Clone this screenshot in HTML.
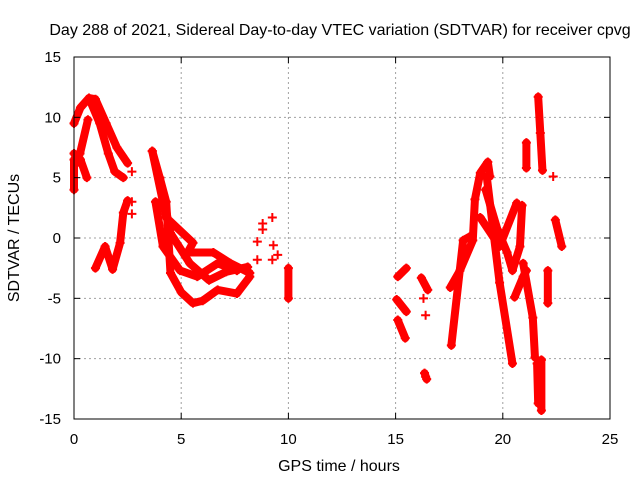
<!DOCTYPE html>
<html><head><meta charset="utf-8"><style>
body{margin:0;background:#fff;}
svg{display:block;font-family:"Liberation Sans",sans-serif;}
</style></head><body>
<svg id="chart" width="640" height="480">
<rect width="640" height="480" fill="#fff"/>
<text x="340" y="35" font-size="16" text-anchor="middle">Day 288 of 2021, Sidereal Day-to-day VTEC variation (SDTVAR) for receiver cpvg</text>
<g id="grid"></g><g id="marks"></g><g id="axes"></g>
<text x="339" y="471" font-size="16" text-anchor="middle">GPS time / hours</text>
<text x="19" y="238" font-size="16" text-anchor="middle" transform="rotate(-90 19 238)">SDTVAR / TECUs</text>
</svg>
<script>
const xTicks=[0,5,10,15,20,25];
const yTicks=[-15,-10,-5,0,5,10,15];
const trackA1=[[0,9.5],[0.3,10.8],[0.7,11.6],[1.0,11.5],[1.5,9.5],[2.0,7.5],[2.5,6.2]];
const trackA2=[[0.7,11.6],[1.2,9.5],[1.6,7.0],[1.9,5.5],[2.3,5.0]];
const trackA3=[[0,7],[0.3,6.5],[0.6,5]];
const trackA4=[[0.28,7],[0.65,9.8]];
const trackA5=[[0,4],[0,6.5]];
const trackB=[[1.0,-2.5],[1.45,-0.7],[1.8,-2.6],[2.15,-0.4],[2.3,2.1],[2.5,3.1]];
const trackC1=[[3.65,7.2],[4.0,5],[4.3,3],[4.5,-2.9],[5.0,-4.5],[5.55,-5.4],[6.0,-5.2],[6.7,-4.3],[7.6,-4.6],[8.2,-3.2]];
const trackC2=[[3.65,7.2],[4.3,1.7],[5.55,-0.4],[5.3,-1.2],[6.5,-1.2],[7.3,-2.1],[8.2,-2.9]];
const trackC3=[[4.0,5],[4.5,0.4],[5.4,-2.1],[6.3,-3.5],[7.1,-2.8],[8.1,-2.4]];
const trackC4=[[3.8,3],[4.15,-0.7],[4.95,-2.7],[5.75,-3.2],[6.7,-2.1],[7.6,-2.7]];
const trackR1=[[15.1,-3.2],[15.5,-2.5]];
const trackR2=[[15.05,-5.1],[15.5,-6.1]];
const trackR3=[[15.1,-6.8],[15.45,-8.3]];
const trackR4=[[16.2,-3.3],[16.5,-4.3]];
const trackR5=[[17.6,-8.9],[18.15,-0.2],[18.45,0.1]];
const trackR6=[[17.55,-4.1],[18.0,-2.7],[18.6,-0.2],[18.7,3.2],[18.95,5.4],[19.3,6.3],[19.4,5.1]];
const trackR7=[[19.25,5.1],[19.85,-3.7],[20.45,-10.4]];
const trackR8=[[19.2,4],[19.75,0.7],[20.2,-1.2],[20.45,-2.7],[20.8,-0.7],[20.9,2.7]];
const trackR9=[[18.95,1.7],[19.85,-0.7],[20.65,2.9]];
const trackR10=[[20.55,-4.9],[20.95,-3.2],[21.1,-2.7]];
const trackR11=[[20.95,-2.1],[21.4,-6.6],[21.5,-9.9]];
const trackR12=[[21.65,11.7],[21.75,8.7],[21.85,5.6]];
const trackR13=[[21.6,-10.4],[21.65,-13.7]];
const trackR14=[[21.8,-10.1],[21.8,-14.3]];
const trackR15=[[21.1,7.9],[21.1,5.8]];
const trackR16=[[22.45,1.5],[22.75,-0.7]];
const trackR17=[[22.1,-2.7],[22.1,-5.4]];
const trackR18=[[10,-2.5],[10,-5]];
const trackR19=[[16.35,-11.2],[16.45,-11.7]];
const scatterPts=[[2.7,3],[2.7,5.5],[2.7,2],[8.55,-0.3],[8.8,0.7],[8.8,1.2],[9.25,1.7],[9.3,-0.6],[8.55,-1.8],[9.25,-1.8],[9.5,-1.4],[16.3,-5],[16.4,-6.4],[16.4,-11.5],[22.35,5.1],[0.1,6]];
const tracks=[trackA1,trackA2,trackA3,trackA4,trackA5,trackB,trackC1,trackC2,trackC3,trackC4,trackR1,trackR2,trackR3,trackR4,trackR5,trackR6,trackR7,trackR8,trackR9,trackR10,trackR11,trackR12,trackR13,trackR14,trackR15,trackR16,trackR17,trackR18,trackR19];
const X0=74,X1=610,Y0=419,Y1=57;
const sx=t=>X0+(t-0)/(25-0)*(X1-X0);
const sy=v=>Y0-(v+15)/30*(Y0-Y1);
const NS="http://www.w3.org/2000/svg";
function mk(tag,attrs,parent){const e=document.createElementNS(NS,tag);for(const k in attrs)e.setAttribute(k,attrs[k]);parent.appendChild(e);return e;}
const grid=document.getElementById('grid'),axes=document.getElementById('axes'),marks=document.getElementById('marks');
xTicks.forEach(t=>{
  if(t>0&&t<25){const g=mk('line',{x1:sx(t),x2:sx(t),y1:Y1,y2:Y0,stroke:'#a0a0a0','stroke-dasharray':'2,3'},grid);
  
  }
  mk('line',{x1:sx(t),x2:sx(t),y1:Y0,y2:Y0-6,stroke:'#000'},axes);
  mk('line',{x1:sx(t),x2:sx(t),y1:Y1,y2:Y1+6,stroke:'#000'},axes);
  const l=mk('text',{x:sx(t),y:444,'font-size':15,'text-anchor':'middle'},axes);l.textContent=t;
  
  
});
yTicks.forEach(v=>{
  if(v>-15&&v<15){const g=mk('line',{x1:X0,x2:X1,y1:sy(v),y2:sy(v),stroke:'#a0a0a0','stroke-dasharray':'2,3'},grid);
  
  }
  mk('line',{x1:X0,x2:X0+6,y1:sy(v),y2:sy(v),stroke:'#000'},axes);
  mk('line',{x1:X1,x2:X1-6,y1:sy(v),y2:sy(v),stroke:'#000'},axes);
  const l=mk('text',{x:61,y:sy(v)+5,'font-size':15,'text-anchor':'end'},axes);l.textContent=v;
  
  
});
const fr=mk('rect',{x:X0,y:Y1,width:X1-X0,height:Y0-Y1,fill:'none',stroke:'#000'},axes);


function plus(t,v){const x=sx(t),y=sy(v);
  const p=mk('path',{d:`M${x-4.5} ${y}H${x+4.5}M${x} ${y-4.5}V${y+4.5}`,stroke:'#f00','stroke-width':2},marks);
  
  }
tracks.forEach(tr=>{
  const pl=mk('polyline',{points:tr.map(p=>sx(p[0])+','+sy(p[1])).join(' '),fill:'none',stroke:'#f00','stroke-width':8,'stroke-linejoin':'round','stroke-linecap':'round'},marks);
  
  
  tr.forEach(p=>plus(p[0],p[1]));
});
scatterPts.forEach(p=>plus(p[0],p[1]));
</script>
</body></html>
